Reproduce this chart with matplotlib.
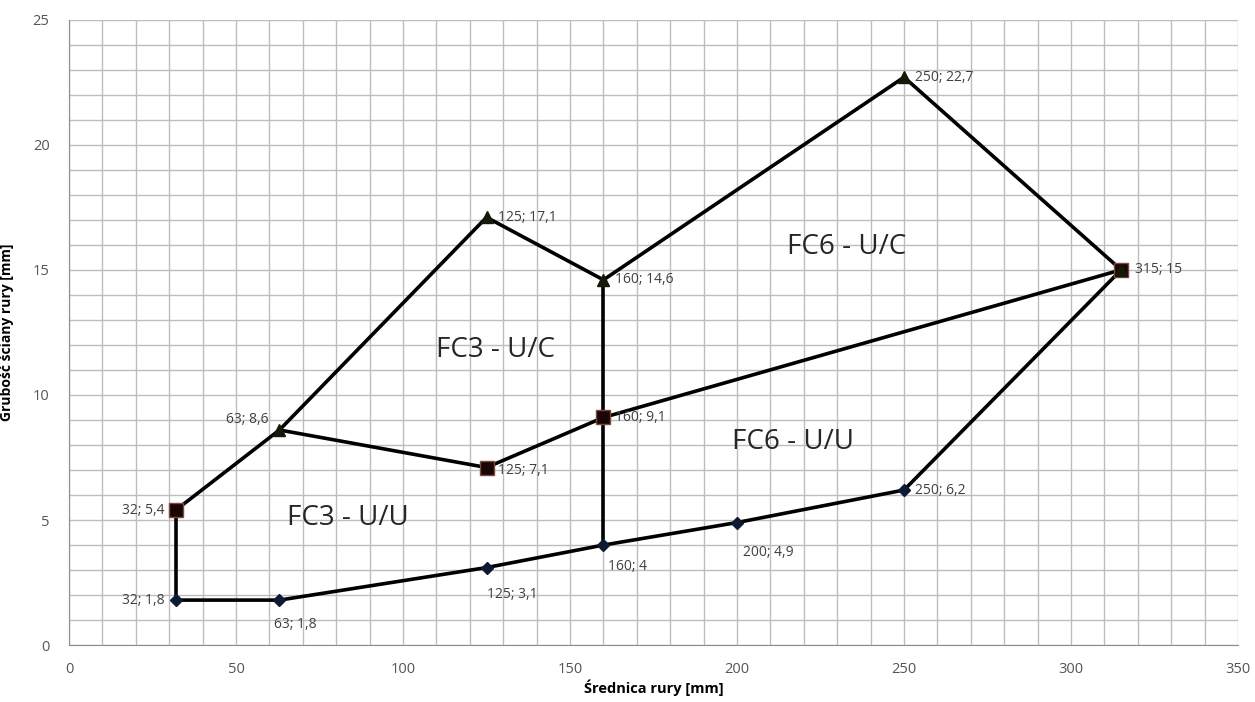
import matplotlib
matplotlib.use("Agg")
import matplotlib.pyplot as plt

plt.rcParams['font.family'] = ['Open Sans', 'DejaVu Sans']

# Data
bottom_x = [32, 63, 125, 160, 200, 250, 315]
bottom_y = [1.8, 1.8, 3.1, 4, 4.9, 6.2, 15]
left_x = [32, 32]
left_y = [1.8, 5.4]
top_x = [32, 63, 125, 160, 250, 315]
top_y = [5.4, 8.6, 17.1, 14.6, 22.7, 15]
mid_x = [63, 125, 160, 315]
mid_y = [8.6, 7.1, 9.1, 15]
vert_x = [160, 160]
vert_y = [4, 14.6]

diamond_x = [32, 63, 125, 160, 200, 250]
diamond_y = [1.8, 1.8, 3.1, 4, 4.9, 6.2]
square_x = [32, 125, 160, 315]
square_y = [5.4, 7.1, 9.1, 15]
tri_x = [63, 125, 160, 250, 315]
tri_y = [8.6, 17.1, 14.6, 22.7, 15]

point_labels = [
    (32, 5.4, "32; 5,4", (-8, 0), 'right', 'center'),
    (63, 8.6, "63; 8,6", (-8, 2), 'right', 'bottom'),
    (125, 17.1, "125; 17,1", (8, 0), 'left', 'center'),
    (160, 14.6, "160; 14,6", (8, 0), 'left', 'center'),
    (250, 22.7, "250; 22,7", (8, 0), 'left', 'center'),
    (315, 15, "315; 15", (10, 0), 'left', 'center'),
    (160, 9.1, "160; 9,1", (8, 0), 'left', 'center'),
    (125, 7.1, "125; 7,1", (8, -2), 'left', 'center'),
    (250, 6.2, "250; 6,2", (8, 0), 'left', 'center'),
    (200, 4.9, "200; 4,9", (4, -16), 'left', 'top'),
    (160, 4, "160; 4", (3, -10), 'left', 'top'),
    (125, 3.1, "125; 3,1", (0, -14), 'left', 'top'),
    (63, 1.8, "63; 1,8", (-4, -12), 'left', 'top'),
    (32, 1.8, "32; 1,8", (-8, 0), 'right', 'center'),
]

region_labels = [
    (65.3, 5.1, "FC3 - U/U"),
    (110, 11.8, "FC3 - U/C"),
    (215, 15.9, "FC6 - U/C"),
    (198.5, 8.1, "FC6 - U/U"),
]

fig = plt.figure(figsize=(12.55, 7.02), dpi=100)
ax = fig.add_axes([0.055, 0.081, 0.9315, 0.891])

ax.set_xlim(0, 350)
ax.set_ylim(0, 25)
ax.set_xticks(range(0, 351, 50))
ax.set_yticks(range(0, 26, 5))
ax.set_xticks(range(0, 351, 10), minor=True)
ax.set_yticks(range(0, 26, 1), minor=True)
ax.grid(True, which='both', color='#bdbdbd', linewidth=1.0)
ax.set_axisbelow(True)
ax.tick_params(which='both', length=0, labelsize=10.5, colors='#555555')
ax.tick_params(axis='x', pad=12)
ax.tick_params(axis='y', pad=14)
for s in ax.spines.values():
    s.set_visible(False)
ax.spines['bottom'].set_visible(True)
ax.spines['bottom'].set_color('#8c8c8c')
ax.spines['left'].set_visible(True)
ax.spines['left'].set_color('#8c8c8c')

lw = 2.6
for xs, ys in [(bottom_x, bottom_y), (left_x, left_y), (top_x, top_y),
               (mid_x, mid_y), (vert_x, vert_y)]:
    ax.plot(xs, ys, color='black', linewidth=lw, zorder=3)

ax.plot(diamond_x, diamond_y, linestyle='none', marker='D', markersize=6,
        color='#0d1a33', zorder=4)
ax.plot(square_x, square_y, linestyle='none', marker='s', markersize=10,
        markerfacecolor='#1a0505', markeredgecolor='#7a4a3a', zorder=4)
ax.plot(tri_x, tri_y, linestyle='none', marker='^', markersize=8,
        color='#141a0a', zorder=5)

for x, y, t, off, ha, va in point_labels:
    ax.annotate(t, (x, y), xytext=off, textcoords='offset points',
                ha=ha, va=va, fontsize=10, color='#404040', zorder=6)

for x, y, t in region_labels:
    ax.text(x, y, t, fontsize=20, color='#262626', ha='left', va='center', zorder=6)

ax.set_xlabel("Średnica rury [mm]", fontsize=10.5, fontweight='bold', labelpad=2)
ax.set_ylabel("Grubość ściany rury [mm]", fontsize=10, fontweight='bold')
ax.yaxis.set_label_coords(-0.047, 0.5)

fig.savefig("out.png", dpi=100, facecolor='white')
